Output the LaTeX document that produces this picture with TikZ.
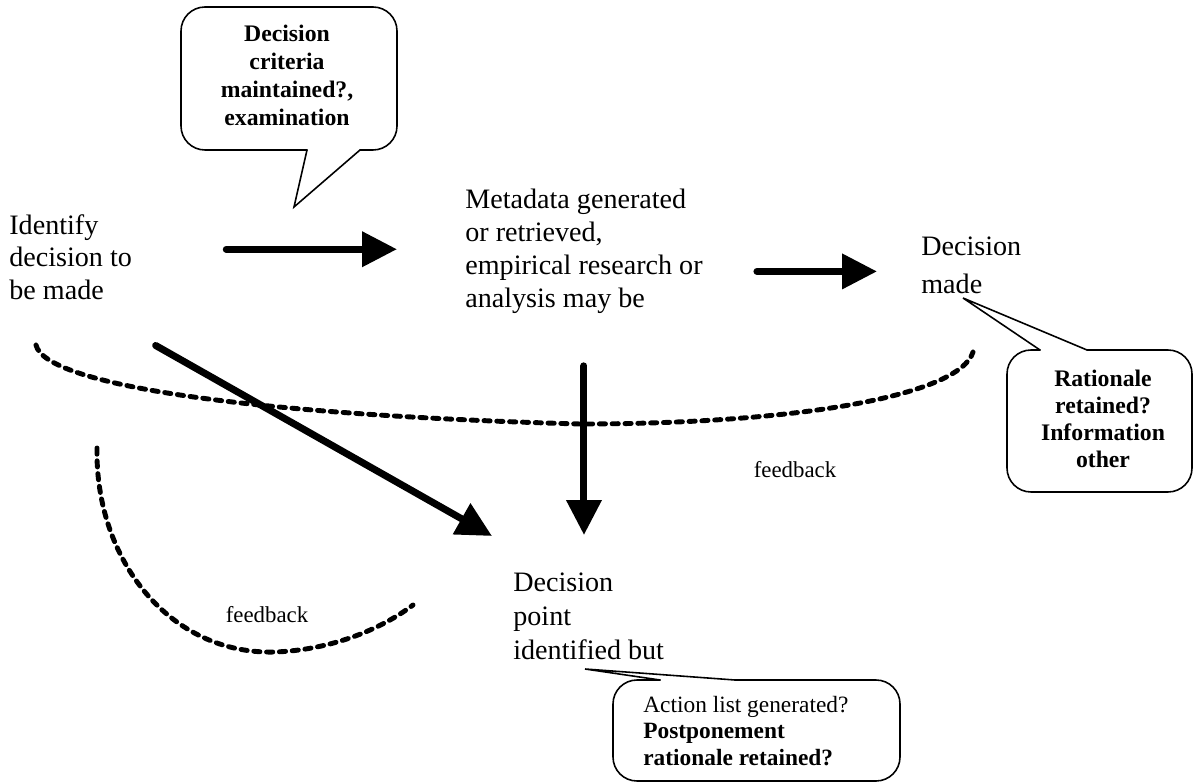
\documentclass[tikz,border=0pt]{standalone}
\usepackage{fontspec}
\setmainfont{Liberation Serif}
\usetikzlibrary{arrows.meta, positioning, calc}

\begin{document}
\begin{tikzpicture}[
  x=0.02cm, y=-0.02cm,
  stage/.style={inner sep=0pt, align=left, anchor=north west,
                font=\fontsize{16}{18.7}\selectfont},
  note/.style={inner sep=0pt, align=center, anchor=north,
               font=\fontsize{13.5}{15.9}\selectfont\bfseries},
  fb/.style={inner sep=0pt, font=\fontsize{13}{15}\selectfont},
  arr/.style={line width=4pt, line cap=round,
              -{Triangle[length=0.7cm, width=0.68cm]}},
  loop/.style={line width=2.8pt, line cap=round, dash pattern=on 3.5pt off 3.8pt},
  bubble/.style={line width=0.9pt, line cap=round},
  box/.style={bubble, rounded corners=0.48cm}
]
\useasboundingbox (0,0) rectangle (1196,783);

\node[stage] (ident) at (9,214) {Identify\\decision to\\be made};
\node[stage] (meta)  at (465,189) {Metadata generated\\or retrieved,\\empirical research or\\analysis may be};
\node[stage, font=\fontsize{16}{21.5}\selectfont] (made)  at (921,237) {Decision\\made};
\node[stage, font=\fontsize{16}{19.3}\selectfont] (point) at (513,573) {Decision\\point\\identified but};

\draw[arr] ($(ident.east)+(94,-8)$) coordinate (a1) -- ($(a1 -| meta.west)+(-68,0)$);
\draw[arr] ($(meta.east)+(54,20)$) coordinate (a2) -- ($(a2 -| made.west)+(-44,0)$);
\draw[arr] ($(meta.south)+(0,52)$) -- ($(meta.south |- point.north)+(0,-38)$);
\draw[arr] ($(ident.south)+(85,45)$) -- ($(point.north west)+(-21,-37)$);

% feedback loops
\draw[loop] (36,345) .. controls (45,385) and (250,415) .. (580,424)
            .. controls (800,424) and (960,395) .. (973,352);
\draw[loop] (97,448) .. controls (95,560) and (170,655) .. (275,652)
            .. controls (330,650) and (380,630) .. (413,605);
\node[fb] (fb1) at (795,470) {feedback};
\node[fb] (fb2) at (267,615) {feedback};

% callouts
\draw[box] (360,150) -- (397,150) -- (397,7) -- (181,7) -- (181,150) -- (307,150);
\draw[bubble] (307,150) -- (294,207) -- (360,150);
\node[note] (crit) at (287,25) {Decision\\criteria\\maintained?,\\examination};

\draw[box] (1087,350) -- (1192,350) -- (1192,492) -- (1007,492) -- (1007,350) -- (1040,350);
\draw[bubble] (1040,350) -- (963,298) -- (1087,350);
\node[note, font=\fontsize{13.5}{15.3}\selectfont\bfseries] (ratio) at (1103,370)
      {Rationale\\retained?\\Information\\other};

\draw[box] (735,680) -- (900,680) -- (900,781) -- (613,781) -- (613,680) -- (660,680);
\draw[bubble] (660,680) -- (585,669) -- (735,680);
\node[stage, font=\fontsize{13.3}{15}\selectfont] (action) at (643,696)
      {Action list generated?\\\textbf{Postponement}\\\textbf{rationale retained?}};
\end{tikzpicture}
\end{document}
